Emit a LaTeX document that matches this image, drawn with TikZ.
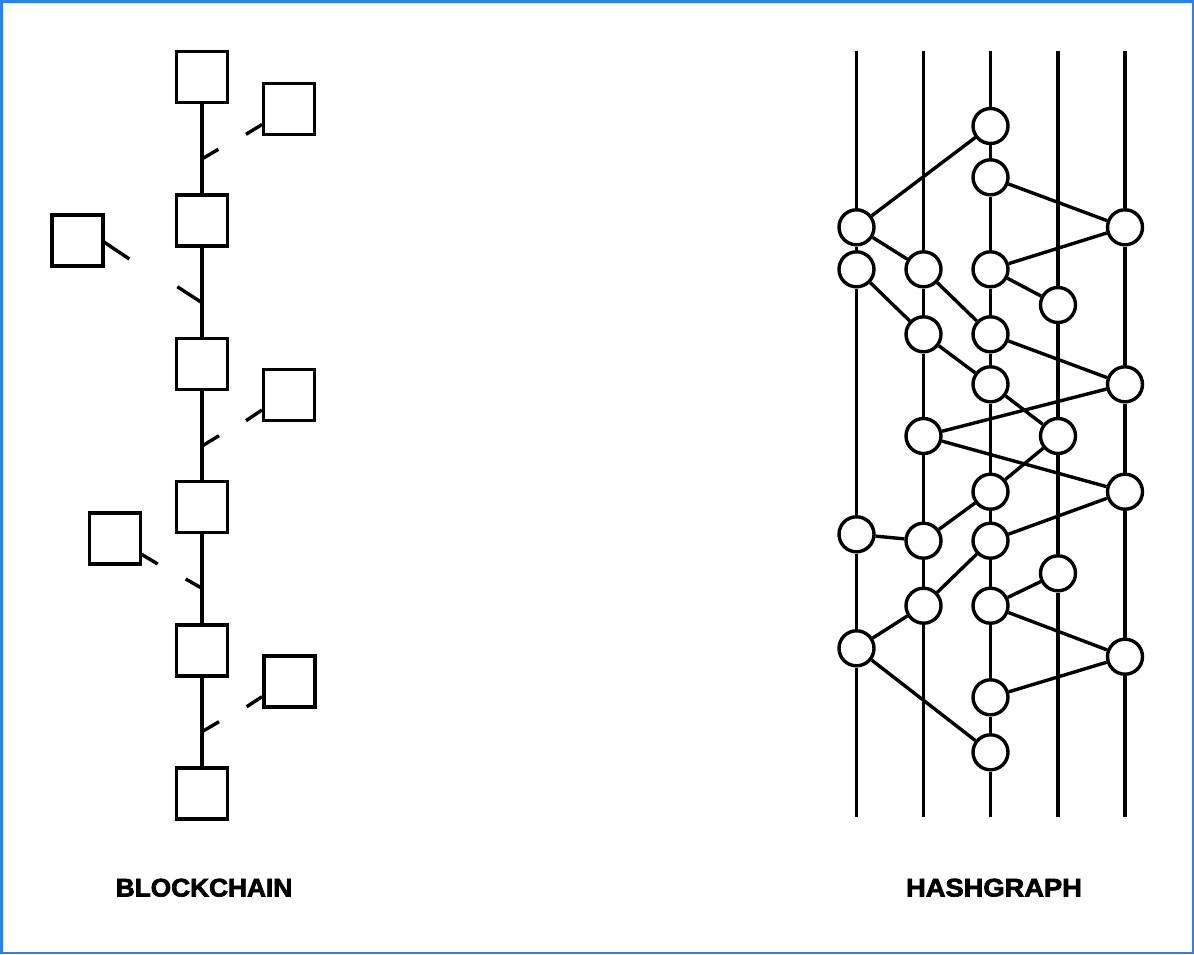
\documentclass[tikz,border=0pt]{standalone}
\usepackage{fontspec}
\setmainfont{Liberation Sans}
\newfontfamily\lblfont{Liberation Sans}[BoldFeatures={FakeBold=2.6}]
\definecolor{frameblue}{RGB}{44,128,232}
\begin{document}
\begin{tikzpicture}[x=1pt,y=-1pt,
  ln/.style={line width=3.4pt},
  blk/.style={draw,line width=3.4pt,fill=white,minimum size=51pt,inner sep=0pt},
  ev/.style={draw,circle,line width=3.4pt,fill=white,minimum size=35pt,inner sep=0pt},
  lbl/.style={font=\lblfont\bfseries\fontsize{25.5}{25.5}\selectfont,anchor=base,inner sep=0pt}]
\useasboundingbox (0,0) rectangle (1194,954);
\draw[frameblue,line width=2.5pt] (1.25,1.25) rectangle (1192.75,952.75);

% ---------------- Blockchain ----------------
\node[blk] (m1) at (202,77) {};
\node[blk] (m2) at (202,220.3) {};
\node[blk] (m3) at (202,363.7) {};
\node[blk] (m4) at (202,507) {};
\node[blk] (m5) at (202,650.3) {};
\node[blk] (m6) at (202,793.6) {};
\draw[ln] (m1) -- (m2);
\draw[ln] (m2) -- (m3);
\draw[ln] (m3) -- (m4);
\draw[ln] (m4) -- (m5);
\draw[ln] (m5) -- (m6);

\node[blk] (r1) at (289,109) {};
\node[blk] (l1) at (77.5,240.5) {};
\node[blk] (r2) at (289,395) {};
\node[blk] (l2) at (114.7,538.3) {};
\node[blk] (r3) at (289.5,681.3) {};

% stubs of the side blocks
\coordinate (r1s) at (262,124.5);
\coordinate (r1e) at (246,134.3);
\coordinate (c1s) at (202,159);
\coordinate (c1e) at (218.3,149.3);
\draw[ln] (r1s) -- (r1e);
\draw[ln] (c1s) -- (c1e);

\coordinate (l1s) at (104,242);
\coordinate (l1e) at (129.3,259);
\coordinate (c2s) at (177.3,286.7);
\coordinate (c2e) at (202,302.7);
\draw[ln] (l1s) -- (l1e);
\draw[ln] (c2s) -- (c2e);

\coordinate (r2s) at (262,410);
\coordinate (r2e) at (246,420.7);
\coordinate (c3s) at (202,446);
\coordinate (c3e) at (219,435.7);
\draw[ln] (r2s) -- (r2e);
\draw[ln] (c3s) -- (c3e);

\coordinate (l2s) at (141,554);
\coordinate (l2e) at (157.7,564);
\coordinate (c4s) at (185.7,579);
\coordinate (c4e) at (202,588.3);
\draw[ln] (l2s) -- (l2e);
\draw[ln] (c4s) -- (c4e);

\coordinate (r3s) at (262,696.7);
\coordinate (r3e) at (246.7,706.7);
\coordinate (c5s) at (202,731.7);
\coordinate (c5e) at (219,721.7);
\draw[ln] (r3s) -- (r3e);
\draw[ln] (c5s) -- (c5e);

\node[lbl] (bc) at (204,896.5) {\scalebox{1.03}[1]{BLOCKCHAIN}};

% ---------------- Hashgraph ----------------
\coordinate (t1) at (856.5,51);  \coordinate (b1x) at (856.5,817);
\coordinate (t2) at (923.5,51);  \coordinate (b2x) at (923.5,817);
\coordinate (t3) at (990.5,51);  \coordinate (b3x) at (990.5,817);
\coordinate (t4) at (1058,51);   \coordinate (b4x) at (1058,817);
\coordinate (t5) at (1125,51);   \coordinate (b5x) at (1125,817);

% column 1
\node[ev] (a1) at (856.5,227.3) {};
\node[ev] (a2) at (856.5,269.3) {};
\node[ev] (a3) at (856.5,534.3) {};
\node[ev] (a4) at (856.5,648.3) {};
% column 2
\node[ev] (b1) at (923.5,269.3) {};
\node[ev] (b2) at (923.5,334.3) {};
\node[ev] (b3) at (923.5,436) {};
\node[ev] (b4) at (923.5,540.7) {};
\node[ev] (b5) at (923.5,605.7) {};
% column 3
\node[ev] (c1) at (990.5,126) {};
\node[ev] (c2) at (990.5,177.3) {};
\node[ev] (c3) at (990.5,269.3) {};
\node[ev] (c4) at (990.5,334.3) {};
\node[ev] (c5) at (990.5,384.3) {};
\node[ev] (c6) at (990.5,491.7) {};
\node[ev] (c7) at (990.5,540.7) {};
\node[ev] (c8) at (990.5,605.7) {};
\node[ev] (c9) at (990.5,697.3) {};
\node[ev] (c10) at (990.5,752.3) {};
% column 4
\node[ev] (d1) at (1058,305) {};
\node[ev] (d2) at (1058,436) {};
\node[ev] (d3) at (1058,573.3) {};
% column 5
\node[ev] (e1) at (1125,227.3) {};
\node[ev] (e2) at (1125,384.3) {};
\node[ev] (e3) at (1125,491.7) {};
\node[ev] (e4) at (1125,656.7) {};

% vertical member lines
\draw[ln] (t1) -- (a1) -- (a2) -- (a3) -- (a4) -- (b1x);
\draw[ln] (t2) -- (b1) -- (b2) -- (b3) -- (b4) -- (b5) -- (b2x);
\draw[ln] (t3) -- (c1) -- (c2) -- (c3) -- (c4) -- (c5) -- (c6) -- (c7) -- (c8) -- (c9) -- (c10) -- (b3x);
\draw[ln] (t4) -- (d1) -- (d2) -- (d3) -- (b4x);
\draw[ln] (t5) -- (e1) -- (e2) -- (e3) -- (e4) -- (b5x);

% gossip edges
\draw[ln] (a1) -- (c1);
\draw[ln] (c2) -- (e1);
\draw[ln] (e1) -- (c3);
\draw[ln] (a1) -- (b1);
\draw[ln] (a2) -- (b2);
\draw[ln] (c3) -- (d1);
\draw[ln] (b1) -- (c4);
\draw[ln] (b2) -- (c5);
\draw[ln] (c4) -- (e2);
\draw[ln] (e2) -- (b3);
\draw[ln] (c5) -- (d2);
\draw[ln] (b3) -- (e3);
\draw[ln] (d2) -- (c6);
\draw[ln] (c6) -- (b4);
\draw[ln] (b4) -- (a3);
\draw[ln] (e3) -- (c7);
\draw[ln] (c7) -- (b5);
\draw[ln] (b5) -- (a4);
\draw[ln] (c8) -- (d3);
\draw[ln] (c8) -- (e4);
\draw[ln] (e4) -- (c9);
\draw[ln] (a4) -- (c10);

\node[lbl] (hg) at (994,896.5) {\scalebox{1.07}[1]{HASHGRAPH}};
\end{tikzpicture}
\end{document}
